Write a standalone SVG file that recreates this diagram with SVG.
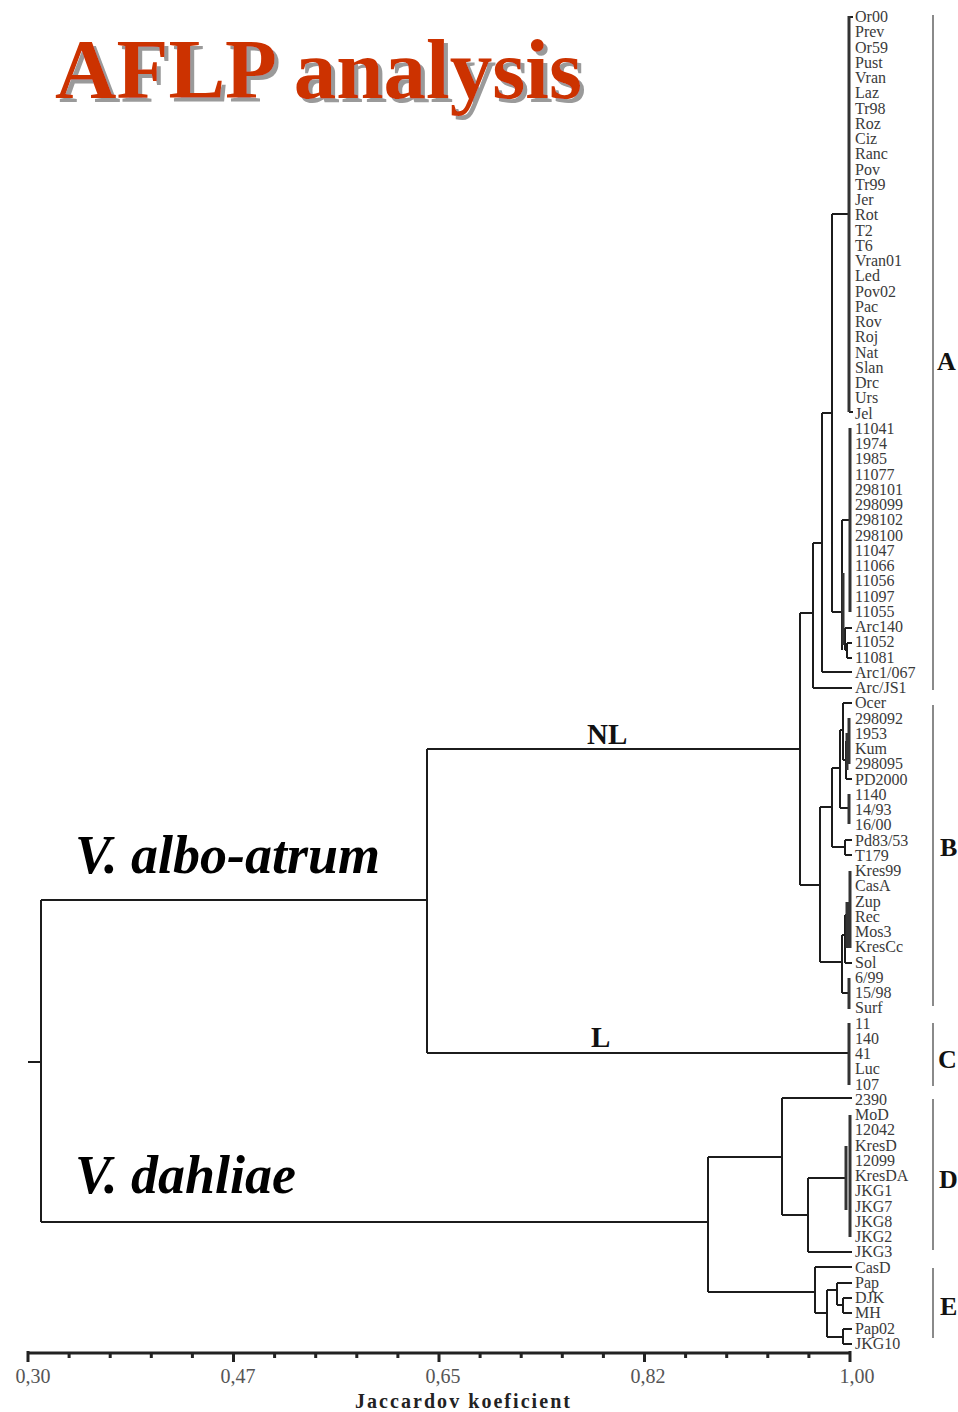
<svg xmlns="http://www.w3.org/2000/svg" width="958" height="1412" viewBox="0 0 958 1412">
<style>
.ln{stroke:#1c1c1c;stroke-width:2;fill:none}
.bar{stroke:#333;stroke-width:3;fill:none}
.lf{font-family:"Liberation Serif","Times New Roman",serif;font-size:16px;fill:#3a3a3a}
.cb{stroke:#8a8a8a;stroke-width:2;fill:none}
.cl{font-family:"Liberation Serif",serif;font-weight:bold;font-size:26px;fill:#111}
.ax{font-family:"Liberation Serif",serif;font-size:20px;fill:#555;text-anchor:middle}
.sp{font-family:"Liberation Serif",serif;font-weight:bold;font-style:italic;font-size:54px;fill:#000}
.br{font-family:"Liberation Serif",serif;font-weight:bold;font-size:29px;fill:#111}
.tt{font-family:"Liberation Serif",serif;font-weight:bold;font-size:85px}
</style>
<defs>
<filter id="shadow" x="-5%" y="-20%" width="115%" height="150%">
<feDropShadow dx="4" dy="4" stdDeviation="0.6" flood-color="#9a9a9a" flood-opacity="1"/>
</filter>
</defs>
<rect width="958" height="1412" fill="#fff"/>
<g id="title">
<text class="tt" x="55" y="98" fill="#cc3300" filter="url(#shadow)" textLength="527" lengthAdjust="spacingAndGlyphs">AFLP analysis</text>
</g>
<g id="species-labels">
<text id="lbl-albo" class="sp" x="75" y="873">V. albo-atrum</text>
<text id="lbl-dahliae" class="sp" x="75" y="1193">V. dahliae</text>
<text id="lbl-NL" class="br" x="587" y="744">NL</text>
<text id="lbl-L" class="br" x="591" y="1047">L</text>
</g>
<g id="connectors">
<path class="ln" d="M28 1062H41M41 900V1222M41 900H427M41 1222H708M427 749V1053M427 749H800M427 1053H849"/>
<path class="ln" d="M800 613V885M800 613H813M813 543V688M813 688H852M813 543H822M822 413V672M822 672H852M822 413H832M832 214V612M832 214H849M849 17H853M849 412H853"/>
<path class="bar" d="M849 16V412"/>
<path class="ln" d="M832 612H842M842 520V650M842 520H850M842 639H845M845 628V650M845 628H852M845 650H847M847 643V658M847 643H852M847 658H852"/>
<path class="bar" d="M850 428V612M843 573V645"/>
<path class="ln" d="M800 885H820M820 807V962M820 807H832M832 768V847M832 847H845M845 840V855M845 840H852M845 855H852M832 768H840M840 730V808M840 808H849M840 730H843M843 703V760M843 703H852M843 760H846M846 741V779M846 779H852M846 741H849"/>
<path class="bar" d="M849 794V824M849 718V764M847 733V770"/>
<path class="ln" d="M820 962H842M842 935V993M842 935H845M845 915V963M845 963H852M845 915H847M842 993H849"/>
<path class="bar" d="M850 871V948M847 902V948M849 978V1009M849 1023V1085"/>
<path class="ln" d="M708 1157V1292M708 1157H782M782 1098V1215M782 1098H852M782 1215H808M808 1178V1252M808 1252H852M808 1178H846"/>
<path class="bar" d="M846 1146V1210M850 1115V1237"/>
<path class="ln" d="M708 1292H815M815 1267V1313M815 1267H852M815 1313H827M827 1290V1337M827 1290H837M837 1283V1305M837 1283H852M837 1305H843M843 1298V1313M843 1298H852M843 1313H852M827 1337H843M843 1329V1344M843 1329H852M843 1344H852"/>
</g>
<g id="cluster-bars">
<g id="cluster-A"><path class="cb" d="M933 15V690"/><text class="cl" x="937" y="370">A</text></g>
<g id="cluster-B"><path class="cb" d="M933 705V1006"/><text class="cl" x="940" y="856">B</text></g>
<g id="cluster-C"><path class="cb" d="M933 1023V1086"/><text class="cl" x="938" y="1068">C</text></g>
<g id="cluster-D"><path class="cb" d="M933 1099V1250"/><text class="cl" x="939" y="1188">D</text></g>
<g id="cluster-E"><path class="cb" d="M933 1268V1338"/><text class="cl" x="940" y="1315">E</text></g>
</g>
<g id="axis">
<path d="M28 1353H850" stroke="#222" stroke-width="3" fill="none"/>
<path d="M28 1351V1362M233.5 1353V1362M439 1353V1362M644.5 1353V1362M850 1351V1362" stroke="#222" stroke-width="3" fill="none"/>
<path d="M69.1 1353V1358M110.2 1353V1358M151.3 1353V1358M192.4 1353V1358M274.6 1353V1358M315.7 1353V1358M356.8 1353V1358M397.9 1353V1358M480.1 1353V1358M521.2 1353V1358M562.3 1353V1358M603.4 1353V1358M685.6 1353V1358M726.7 1353V1358M767.8 1353V1358M808.9 1353V1358" stroke="#222" stroke-width="3" fill="none"/>
<text class="ax" x="33" y="1383">0,30</text>
<text class="ax" x="238" y="1383">0,47</text>
<text class="ax" x="443" y="1383">0,65</text>
<text class="ax" x="648" y="1383">0,82</text>
<text class="ax" x="857" y="1383">1,00</text>
<text x="355" y="1408" font-family="Liberation Serif, serif" font-weight="bold" font-size="20" fill="#222" textLength="215" lengthAdjust="spacing">Jaccardov koeficient</text>
</g>
<g id="leaves" class="lf">
<text id="n0" x="855" y="22">Or00</text>
<text id="n1" x="855" y="37.25">Prev</text>
<text id="n2" x="855" y="52.5">Or59</text>
<text id="n3" x="855" y="67.75">Pust</text>
<text id="n4" x="855" y="83">Vran</text>
<text id="n5" x="855" y="98.25">Laz</text>
<text id="n6" x="855" y="113.5">Tr98</text>
<text id="n7" x="855" y="128.75">Roz</text>
<text id="n8" x="855" y="144">Ciz</text>
<text id="n9" x="855" y="159.25">Ranc</text>
<text id="n10" x="855" y="174.5">Pov</text>
<text id="n11" x="855" y="189.75">Tr99</text>
<text id="n12" x="855" y="205">Jer</text>
<text id="n13" x="855" y="220.25">Rot</text>
<text id="n14" x="855" y="235.5">T2</text>
<text id="n15" x="855" y="250.75">T6</text>
<text id="n16" x="855" y="266">Vran01</text>
<text id="n17" x="855" y="281.25">Led</text>
<text id="n18" x="855" y="296.5">Pov02</text>
<text id="n19" x="855" y="311.75">Pac</text>
<text id="n20" x="855" y="327">Rov</text>
<text id="n21" x="855" y="342.25">Roj</text>
<text id="n22" x="855" y="357.5">Nat</text>
<text id="n23" x="855" y="372.75">Slan</text>
<text id="n24" x="855" y="388">Drc</text>
<text id="n25" x="855" y="403.25">Urs</text>
<text id="n26" x="855" y="418.5">Jel</text>
<text id="n27" x="855" y="433.75">11041</text>
<text id="n28" x="855" y="449">1974</text>
<text id="n29" x="855" y="464.25">1985</text>
<text id="n30" x="855" y="479.5">11077</text>
<text id="n31" x="855" y="494.75">298101</text>
<text id="n32" x="855" y="510">298099</text>
<text id="n33" x="855" y="525.25">298102</text>
<text id="n34" x="855" y="540.5">298100</text>
<text id="n35" x="855" y="555.75">11047</text>
<text id="n36" x="855" y="571">11066</text>
<text id="n37" x="855" y="586.25">11056</text>
<text id="n38" x="855" y="601.5">11097</text>
<text id="n39" x="855" y="616.75">11055</text>
<text id="n40" x="855" y="632">Arc140</text>
<text id="n41" x="855" y="647.25">11052</text>
<text id="n42" x="855" y="662.5">11081</text>
<text id="n43" x="855" y="677.75">Arc1/067</text>
<text id="n44" x="855" y="693">Arc/JS1</text>
<text id="n45" x="855" y="708.25">Ocer</text>
<text id="n46" x="855" y="723.5">298092</text>
<text id="n47" x="855" y="738.75">1953</text>
<text id="n48" x="855" y="754">Kum</text>
<text id="n49" x="855" y="769.25">298095</text>
<text id="n50" x="855" y="784.5">PD2000</text>
<text id="n51" x="855" y="799.75">1140</text>
<text id="n52" x="855" y="815">14/93</text>
<text id="n53" x="855" y="830.25">16/00</text>
<text id="n54" x="855" y="845.5">Pd83/53</text>
<text id="n55" x="855" y="860.75">T179</text>
<text id="n56" x="855" y="876">Kres99</text>
<text id="n57" x="855" y="891.25">CasA</text>
<text id="n58" x="855" y="906.5">Zup</text>
<text id="n59" x="855" y="921.75">Rec</text>
<text id="n60" x="855" y="937">Mos3</text>
<text id="n61" x="855" y="952.25">KresCc</text>
<text id="n62" x="855" y="967.5">Sol</text>
<text id="n63" x="855" y="982.75">6/99</text>
<text id="n64" x="855" y="998">15/98</text>
<text id="n65" x="855" y="1013.25">Surf</text>
<text id="n66" x="855" y="1028.5">11</text>
<text id="n67" x="855" y="1043.75">140</text>
<text id="n68" x="855" y="1059">41</text>
<text id="n69" x="855" y="1074.25">Luc</text>
<text id="n70" x="855" y="1089.5">107</text>
<text id="n71" x="855" y="1104.75">2390</text>
<text id="n72" x="855" y="1120">MoD</text>
<text id="n73" x="855" y="1135.25">12042</text>
<text id="n74" x="855" y="1150.5">KresD</text>
<text id="n75" x="855" y="1165.75">12099</text>
<text id="n76" x="855" y="1181">KresDA</text>
<text id="n77" x="855" y="1196.25">JKG1</text>
<text id="n78" x="855" y="1211.5">JKG7</text>
<text id="n79" x="855" y="1226.75">JKG8</text>
<text id="n80" x="855" y="1242">JKG2</text>
<text id="n81" x="855" y="1257.25">JKG3</text>
<text id="n82" x="855" y="1272.5">CasD</text>
<text id="n83" x="855" y="1287.75">Pap</text>
<text id="n84" x="855" y="1303">DJK</text>
<text id="n85" x="855" y="1318.25">MH</text>
<text id="n86" x="855" y="1333.5">Pap02</text>
<text id="n87" x="855" y="1348.75">JKG10</text>
</g>
</svg>
